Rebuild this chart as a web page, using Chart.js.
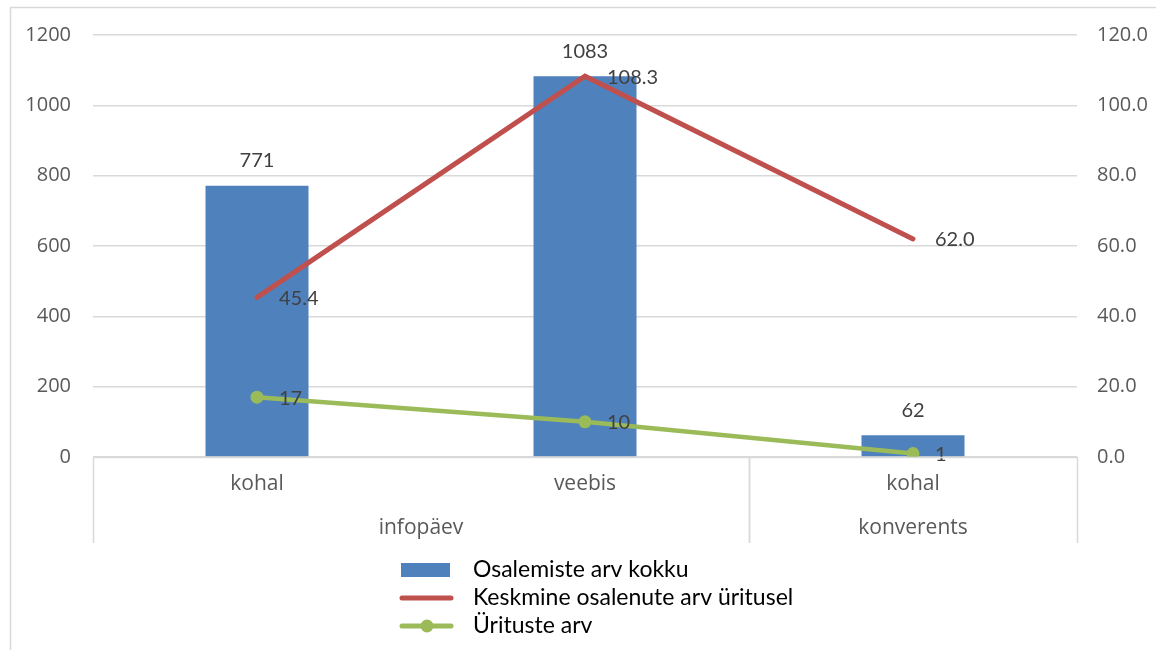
<!DOCTYPE html>
<html>
<head>
<meta charset="utf-8">
<script src="https://cdn.jsdelivr.net/npm/chart.js@4/dist/chart.umd.min.js"></script>
<style>
  body { margin: 0; background: #fff; }
  canvas { display: block; }
</style>
</head>
<body>
<canvas id="graafik" width="1156" height="650"></canvas>
<script>
// andmed
const kategooriad = ['kohal', 'veebis', 'kohal'];
const grupid = ['infopäev', 'infopäev', 'konverents'];
const osalemisteArv = [771, 1083, 62];
const keskmineOsalejaid = [45.4, 108.3, 62.0];
const uritusteArv = [17, 10, 1];
const seeriad = ['Osalemiste arv kokku', 'Keskmine osalenute arv üritusel', 'Ürituste arv'];

const SININE = '#4F81BD';
const PUNANE = '#C0504D';
const ROHELINE = '#9BBB59';
const JOON = '#d9d9d9';
const TELJE_FONT = '"Open Sans"';

// raam ümber graafiku
const raam = {
  id: 'raam',
  beforeDraw(chart) {
    const ctx = chart.ctx;
    ctx.save();
    ctx.strokeStyle = JOON;
    ctx.lineWidth = 1.5;
    ctx.beginPath();
    ctx.moveTo(10.5, 650);
    ctx.lineTo(10.5, 7.5);
    ctx.lineTo(1156, 7.5);
    ctx.stroke();
    ctx.restore();
  }
};

// kahetasemeline x-telg: eraldusjooned ja grupi sildid
const grupiTelg = {
  id: 'grupiTelg',
  afterDraw(chart) {
    const ctx = chart.ctx;
    const x = chart.scales.x;
    const ala = chart.chartArea;
    const samm = x.width / kategooriad.length;
    const alumine = ala.bottom + 86;
    ctx.save();
    ctx.strokeStyle = JOON;
    ctx.lineWidth = 1.5;
    ctx.beginPath();
    ctx.moveTo(ala.left, ala.bottom + 0.5);
    ctx.lineTo(ala.right, ala.bottom + 0.5);
    ctx.stroke();

    // grupi piirid
    let algus = 0;
    for (let i = 1; i <= grupid.length; i++) {
      if (i === grupid.length || grupid[i] !== grupid[algus]) {
        const vasak = x.getPixelForValue(algus) - samm / 2;
        const parem = x.getPixelForValue(i - 1) + samm / 2;
        ctx.beginPath();
        ctx.moveTo(Math.round(vasak) + 0.5, ala.bottom);
        ctx.lineTo(Math.round(vasak) + 0.5, alumine);
        ctx.moveTo(Math.round(parem) + 0.5, ala.bottom);
        ctx.lineTo(Math.round(parem) + 0.5, alumine);
        ctx.stroke();
        ctx.fillStyle = '#595959';
        ctx.font = '21px ' + TELJE_FONT;
        ctx.textAlign = 'center';
        ctx.textBaseline = 'middle';
        ctx.fillText(grupid[algus], (vasak + parem) / 2, ala.bottom + 71);
        algus = i;
      }
    }
    ctx.restore();
  }
};

// väärtuste sildid
const sildid = {
  id: 'sildid',
  afterDatasetsDraw(chart) {
    const ctx = chart.ctx;
    ctx.save();
    ctx.fillStyle = '#404040';
    ctx.font = '20px Lato';
    ctx.textBaseline = 'middle';
    chart.data.datasets.forEach((ds, di) => {
      const meta = chart.getDatasetMeta(di);
      meta.data.forEach((el, i) => {
        const v = ds.data[i];
        if (ds.type === 'bar') {
          ctx.textAlign = 'center';
          ctx.fillText(String(v), el.x, el.y - 25);
        } else {
          ctx.textAlign = 'left';
          const tekst = ds.komakohti ? v.toFixed(ds.komakohti) : String(v);
          ctx.fillText(tekst, el.x + 22, el.y + 1);
        }
      });
    });
    ctx.restore();
  }
};

// legend
const legend = {
  id: 'omaLegend',
  afterDraw(chart) {
    const ctx = chart.ctx;
    const read = [570, 598, 626];
    ctx.save();
    // tulp
    ctx.fillStyle = SININE;
    ctx.fillRect(401, read[0] - 7, 49, 14);
    // punane joon
    ctx.strokeStyle = PUNANE;
    ctx.lineWidth = 5;
    ctx.lineCap = 'round';
    ctx.beginPath();
    ctx.moveTo(402, read[1]);
    ctx.lineTo(451, read[1]);
    ctx.stroke();
    // roheline joon + punkt
    ctx.strokeStyle = ROHELINE;
    ctx.beginPath();
    ctx.moveTo(402, read[2]);
    ctx.lineTo(451, read[2]);
    ctx.stroke();
    ctx.fillStyle = ROHELINE;
    ctx.beginPath();
    ctx.arc(427, read[2], 6.5, 0, Math.PI * 2);
    ctx.fill();

    ctx.fillStyle = '#000';
    ctx.font = '23px Lato';
    ctx.textAlign = 'left';
    ctx.textBaseline = 'middle';
    seeriad.forEach((s, i) => ctx.fillText(s, 473, read[i]));
    ctx.restore();
  }
};

const ctx = document.getElementById('graafik').getContext('2d');
new Chart(ctx, {
  data: {
    labels: kategooriad,
    datasets: [
      {
        type: 'line',
        label: seeriad[1],
        data: keskmineOsalejaid,
        komakohti: 1,
        yAxisID: 'y1',
        borderColor: PUNANE,
        borderWidth: 5,
        pointRadius: 0,
        tension: 0,
        borderCapStyle: 'round',
        order: 1
      },
      {
        type: 'line',
        label: seeriad[2],
        data: uritusteArv,
        yAxisID: 'y1',
        borderColor: ROHELINE,
        backgroundColor: ROHELINE,
        borderWidth: 4.5,
        pointRadius: 6.5,
        pointBorderWidth: 0,
        tension: 0,
        borderCapStyle: 'round',
        order: 0
      },
      {
        type: 'bar',
        label: seeriad[0],
        data: osalemisteArv,
        yAxisID: 'y',
        backgroundColor: SININE,
        barPercentage: 0.314,
        categoryPercentage: 1,
        order: 2
      }
    ]
  },
  options: {
    responsive: false,
    animation: false,
    layout: { padding: { top: 35, left: 10, right: 0, bottom: 0 } },
    plugins: {
      legend: { display: false },
      tooltip: { enabled: false }
    },
    scales: {
      x: {
        offset: true,
        grid: { display: false, drawTicks: false },
        border: { display: false },
        ticks: {
          color: '#595959',
          font: { family: TELJE_FONT, size: 21 },
          padding: 14,
          maxRotation: 0
        },
        afterFit(scale) { scale.height = 193; }
      },
      y: {
        position: 'left',
        min: 0,
        max: 1200,
        grid: { color: JOON, lineWidth: 1.5, drawTicks: false },
        border: { display: false },
        ticks: {
          stepSize: 200,
          color: '#595959',
          font: { family: TELJE_FONT, size: 20 },
          padding: 22,
          callback: v => String(v)
        },
        afterFit(scale) { scale.width = 83; }
      },
      y1: {
        position: 'right',
        min: 0,
        max: 120,
        grid: { display: false, drawTicks: false },
        border: { display: false },
        ticks: {
          stepSize: 20,
          color: '#595959',
          font: { family: TELJE_FONT, size: 20 },
          padding: 20,
          callback: v => v.toFixed(1)
        },
        afterFit(scale) { scale.width = 79; }
      }
    }
  },
  plugins: [raam, grupiTelg, sildid, legend]
});
</script>
</body>
</html>
